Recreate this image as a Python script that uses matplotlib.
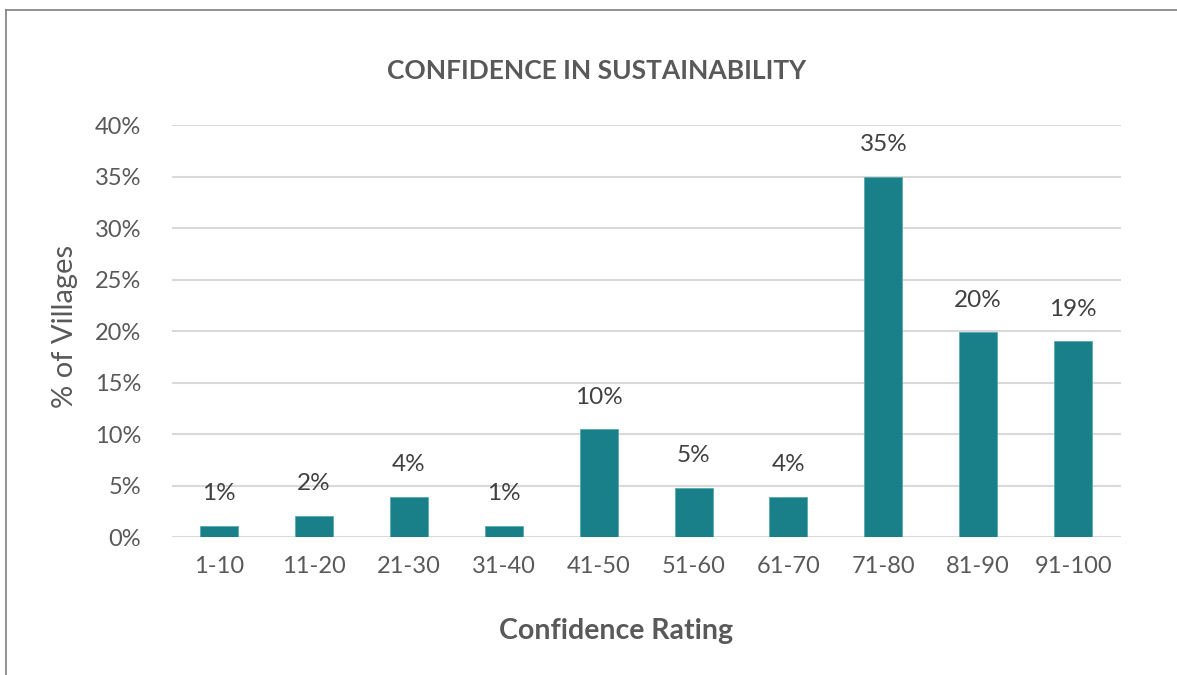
import matplotlib.pyplot as plt
import matplotlib.ticker as mticker
import numpy as np

plt.rcParams['font.family'] = ['Lato', 'DejaVu Sans']

categories = ['1-10', '11-20', '21-30', '31-40', '41-50',
              '51-60', '61-70', '71-80', '81-90', '91-100']
pct_villages = [1.07, 2.04, 3.9, 1.07, 10.45, 4.8, 3.9, 35.0, 19.9, 19.0]
bar_labels = ['1%', '2%', '4%', '1%', '10%', '5%', '4%', '35%', '20%', '19%']

bar_color = '#197f89'
text_color = '#404040'
tick_color = '#595959'

fig = plt.figure(figsize=(11.77, 6.75), dpi=100)
ax = fig.add_axes([0.146, 0.2044, 0.806, 0.6104])

x = np.arange(len(categories))
bars = ax.bar(x, pct_villages, width=0.4, color=bar_color,
              edgecolor='#5aa9b0', linewidth=0.6, zorder=3)

for rect, lab in zip(bars, bar_labels):
    ax.annotate(lab, (rect.get_x() + rect.get_width() / 2, rect.get_height()),
                xytext=(0, 15.5), textcoords='offset points',
                ha='center', va='bottom', fontsize=17.5, color=text_color)

ax.set_ylim(0, 40)
ax.set_xlim(-0.5, len(categories) - 0.5)
ax.yaxis.set_major_locator(mticker.MultipleLocator(5))
ax.yaxis.set_major_formatter(mticker.FuncFormatter(lambda v, p: '%d%%' % v))
ax.grid(axis='y', color='#d9d9d9', linewidth=1.5, zorder=0)
for s in ax.spines.values():
    s.set_visible(False)
ax.tick_params(axis='both', length=0, labelsize=17, labelcolor=tick_color)
ax.tick_params(axis='y', pad=22)
ax.tick_params(axis='x', pad=14)
ax.set_xticks(x)
ax.set_xticklabels(categories)

ax.set_ylabel('% of Villages', fontsize=21, color=tick_color)
ax.yaxis.set_label_coords(-0.099, 0.512)
ax.set_xlabel('Confidence Rating', fontsize=20.5, fontweight='bold',
              color=tick_color)
ax.xaxis.set_label_coords(0.468, -0.196)
fig.text(0.507, 0.895, 'CONFIDENCE IN SUSTAINABILITY', ha='center', va='center',
         fontsize=19, fontweight='bold', color=tick_color)

# outer frame (only left and top edges visible in the reference)
fig.add_artist(plt.Line2D([0.0047, 0.0047], [0, 0.985], color='#7f7f7f',
                          linewidth=1.2, transform=fig.transFigure))
fig.add_artist(plt.Line2D([0.0047, 1.0], [0.985, 0.985], color='#7f7f7f',
                          linewidth=1.2, transform=fig.transFigure))

fig.savefig('out.png', dpi=100)
